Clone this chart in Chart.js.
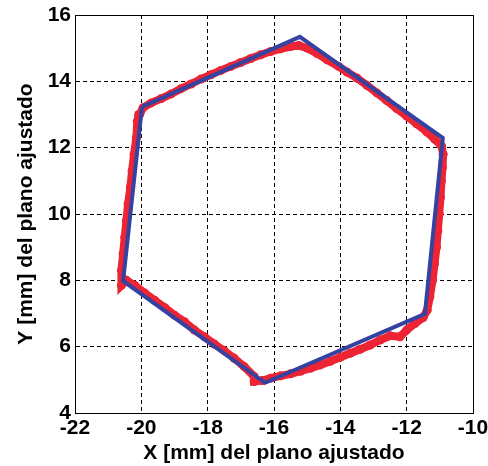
<!DOCTYPE html>
<html>
<head>
<meta charset="utf-8">
<script src="https://cdn.jsdelivr.net/npm/chart.js@4/dist/chart.umd.min.js"></script>
<style>
  html, body { margin: 0; padding: 0; background: #fff; }
  #wrap { width: 488px; height: 466px; }
</style>
</head>
<body>
<div id="wrap"><canvas id="canvas"></canvas></div>
<script>
'use strict';

// fitted hexagon (closed)
var blueX = [-19.98, -15.22, -10.91, -11.45, -16.27, -20.55, -19.98];
var blueY = [13.23, 15.34, 12.29, 6.99, 4.91, 7.98, 13.23];

// measured points, clockwise from the upper left corner
var redX = [-20.05, -19.95, -19.7, -19.4, -19.1, -18.8, -18.5, -18.2, -17.9, -17.6, -17.3, -17.0, -16.7, -16.4, -16.1, -15.8, -15.5, -15.25,
  -15.0, -14.7, -14.4, -14.05, -13.8, -13.5, -13.2, -12.9, -12.6, -12.3, -12.0, -11.7, -11.4, -11.15, -10.95,
  -10.9, -10.92, -10.95, -10.98, -11.02, -11.06, -11.1, -11.16, -11.22, -11.3, -11.38,
  -11.5, -11.75, -12.0, -12.2, -12.5, -12.8, -13.1, -13.4, -13.7, -14.0, -14.3, -14.6, -14.9, -15.2, -15.5, -15.8, -16.1, -16.35, -16.6,
  -16.6, -16.9, -17.2, -17.5, -17.8, -18.1, -18.4, -18.7, -19.0, -19.3, -19.6, -19.9, -20.2, -20.45, -20.6,
  -20.6, -20.55, -20.5, -20.45, -20.4, -20.33, -20.28, -20.22, -20.15, -20.12, -20.08];
var redY = [13.0, 13.2, 13.35, 13.48, 13.62, 13.78, 13.92, 14.07, 14.2, 14.33, 14.45, 14.57, 14.69, 14.8, 14.9, 14.98, 15.05, 15.08,
  15.0, 14.84, 14.65, 14.45, 14.28, 14.1, 13.88, 13.65, 13.42, 13.18, 12.95, 12.72, 12.48, 12.25, 12.05,
  11.8, 11.4, 11.0, 10.5, 10.0, 9.5, 9.0, 8.5, 8.0, 7.5, 7.1,
  6.88, 6.7, 6.5, 6.3, 6.33, 6.2, 6.05, 5.92, 5.8, 5.68, 5.56, 5.45, 5.35, 5.26, 5.18, 5.12, 5.05, 4.98, 4.95,
  5.1, 5.4, 5.65, 5.88, 6.08, 6.3, 6.5, 6.75, 6.95, 7.18, 7.4, 7.62, 7.85, 8.0, 7.85,
  8.3, 8.8, 9.3, 9.8, 10.3, 10.8, 11.3, 11.8, 12.3, 12.8, 13.0];

var xTicks = [-22, -20, -18, -16, -14, -12, -10];
var yTicks = [4, 6, 8, 10, 12, 14, 16];

var xTitle = 'X [mm] del plano ajustado';
var yTitle = 'Y [mm] del plano ajustado';

function toPoints(xs, ys) {
  var pts = [];
  for (var i = 0; i < xs.length; i++) {
    pts.push({ x: xs[i], y: ys[i] });
  }
  return pts;
}

var boxPlugin = {
  id: 'box',
  afterDraw: function (chart) {
    var a = chart.chartArea;
    var c = chart.ctx;
    c.save();
    c.strokeStyle = '#000';
    c.lineWidth = 1;
    c.setLineDash([]);
    c.strokeRect(Math.round(a.left) + 0.5, Math.round(a.top) + 0.5, Math.round(a.right - a.left), Math.round(a.bottom - a.top));
    c.restore();
  }
};

var tickFont = { family: 'Liberation Sans, Arial, sans-serif', size: 21, weight: 'bold' };

var ctx = document.getElementById('canvas').getContext('2d');
var chart = new Chart(ctx, {
  type: 'scatter',
  data: {
    datasets: [{
      label: 'ajuste',
      data: toPoints(blueX, blueY),
      showLine: true,
      borderColor: '#3443a2',
      borderWidth: 4,
      pointRadius: 0,
      fill: false
    }, {
      label: 'medidas',
      data: toPoints(redX, redY),
      showLine: true,
      borderColor: '#ec2434',
      backgroundColor: '#ec2434',
      borderWidth: 8,
      pointRadius: 4.5,
      pointBorderWidth: 0,
      fill: false
    }]
  },
  options: {
    responsive: true,
    maintainAspectRatio: false,
    animation: false,
    layout: { padding: { top: 15, right: 15, left: 0, bottom: 0 } },
    plugins: { legend: { display: false }, tooltip: { enabled: false } },
    scales: {
      x: {
        type: 'linear',
        min: -22,
        max: -10,
        afterBuildTicks: function (scale) {
          scale.ticks = xTicks.map(function (v) { return { value: v }; });
        },
        afterFit: function (scale) {
          scale.height = 53;
          scale.paddingRight = 0;
          scale.paddingLeft = 0;
        },
        ticks: { color: '#000', font: tickFont, padding: 3, maxRotation: 0, autoSkip: false },
        grid: { color: '#000', lineWidth: 1, drawTicks: false },
        border: { color: '#000', dash: [4, 3] },
        title: { display: true, text: xTitle, color: '#000', font: tickFont, padding: { top: 0, bottom: 0 } }
      },
      y: {
        type: 'linear',
        min: 4,
        max: 16,
        afterBuildTicks: function (scale) {
          scale.ticks = yTicks.map(function (v) { return { value: v }; });
        },
        afterFit: function (scale) {
          scale.width = 75;
          scale.paddingTop = 0;
          scale.paddingBottom = 0;
        },
        ticks: { color: '#000', font: tickFont, padding: 4 },
        grid: { color: '#000', lineWidth: 1, drawTicks: false },
        border: { color: '#000', dash: [4, 3] },
        title: { display: true, text: yTitle, color: '#000', font: tickFont, padding: { top: 14, bottom: 0 } }
      }
    }
  },
  plugins: [boxPlugin]
});
</script>
</body>
</html>
